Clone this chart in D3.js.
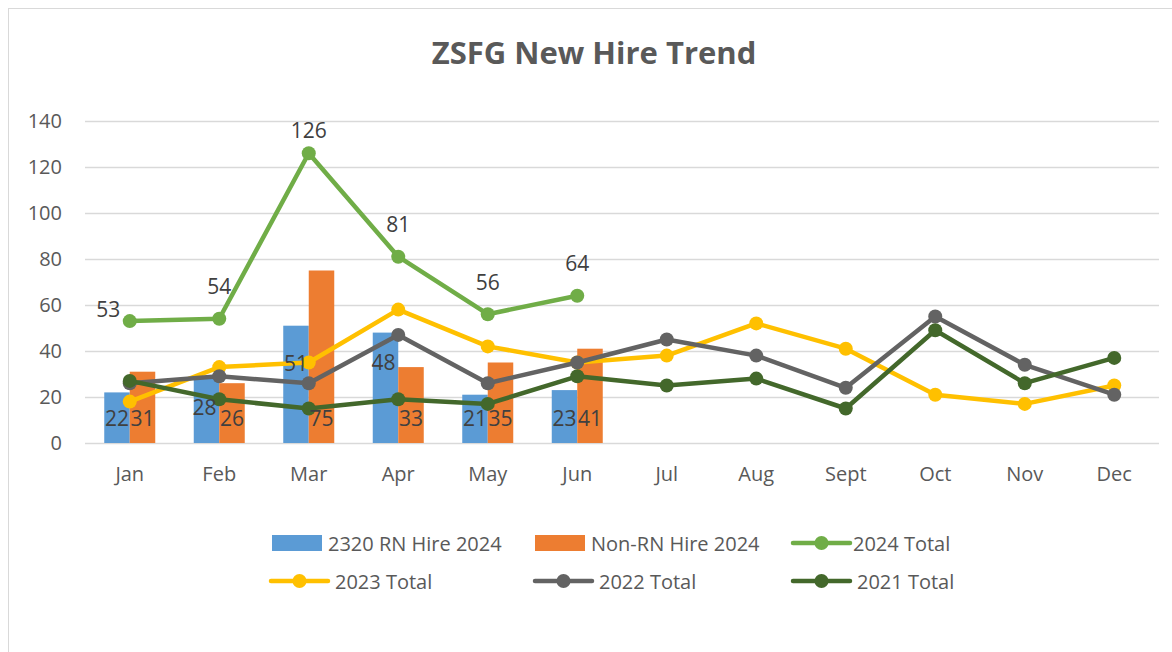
<!DOCTYPE html>
<html>
<head>
<meta charset="utf-8">
<script src="https://cdn.jsdelivr.net/npm/d3@7"></script>
<style>
	body { margin: 0; background: #fff; }
	svg { display: block; font-family: 'Open Sans', sans-serif; }
</style>
</head>
<body>
<script>
var months = ['Jan', 'Feb', 'Mar', 'Apr', 'May', 'Jun', 'Jul', 'Aug', 'Sept', 'Oct', 'Nov', 'Dec'];
var yTicks = [0, 20, 40, 60, 80, 100, 120, 140];
var rnHire2024 = [22, 28, 51, 48, 21, 23];
var nonRnHire2024 = [31, 26, 75, 33, 35, 41];
var total2024 = [53, 54, 126, 81, 56, 64];
var total2023 = [18, 33, 35, 58, 42, 35, 38, 52, 41, 21, 17, 25];
var total2022 = [26, 29, 26, 47, 26, 35, 45, 38, 24, 55, 34, 21];
var total2021 = [27, 19, 15, 19, 17, 29, 25, 28, 15, 49, 26, 37];

var W = 1172, H = 652;
var svg = d3.select('body').append('svg').attr('width', W).attr('height', H);

// chart frame
svg.append('rect').attr('x', 8.5).attr('y', 8.5).attr('width', W).attr('height', H)
	.attr('fill', '#fff').attr('stroke', '#d9d9d9').attr('stroke-width', 1);

svg.append('text').attr('x', 594).attr('y', 64).attr('text-anchor', 'middle')
	.attr('font-size', 31).attr('font-weight', 'bold').attr('fill', '#595959')
	.text('ZSFG New Hire Trend');

var xScale = d3.scaleBand().domain(months).range([85, 1159]);
var yScale = d3.scaleLinear().domain([0, 140]).range([443, 121]);
var xSub = d3.scaleBand().domain(['rn', 'non']).range([0, xScale.bandwidth()]).paddingInner(0).paddingOuter(0.755);
var cx = (d, i) => xScale(months[i]) + xScale.bandwidth() / 2;

// gridlines + y labels
var yAxis = d3.axisLeft(yScale).tickValues(yTicks).tickSize(-(1159 - 85)).tickPadding(23);
var gy = svg.append('g').attr('transform', 'translate(85,0)').call(yAxis);
gy.select('.domain').remove();
gy.selectAll('.tick line').attr('stroke', '#d9d9d9').attr('stroke-width', 1.5);
gy.selectAll('.tick text').attr('fill', '#595959').attr('font-size', 20).attr('font-family', 'Open Sans');

var xAxis = d3.axisBottom(xScale).tickSize(0).tickPadding(24);
var gx = svg.append('g').attr('transform', 'translate(0,443)').call(xAxis);
gx.select('.domain').remove();
gx.selectAll('.tick text').attr('fill', '#595959').attr('font-size', 20).attr('font-family', 'Open Sans');

// bars
var bars = [
	{ key: 'rn', values: rnHire2024, color: '#5B9BD5' },
	{ key: 'non', values: nonRnHire2024, color: '#ED7D31' }
];
bars.forEach(function(s){
	svg.append('g').selectAll('rect').data(s.values).enter().append('rect')
		.attr('x', (d, i) => xScale(months[i]) + xSub(s.key))
		.attr('y', d => yScale(d))
		.attr('width', xSub.bandwidth())
		.attr('height', d => yScale(0) - yScale(d))
		.attr('fill', s.color);
});

// lines
var lines = [
	{ values: total2024, color: '#70AD47' },
	{ values: total2023, color: '#FFC000' },
	{ values: total2022, color: '#636363' },
	{ values: total2021, color: '#43682B' }
];
var line = d3.line().x(cx).y(d => yScale(d));
lines.forEach(function(s){
	var g = svg.append('g');
	g.append('path').attr('d', line(s.values)).attr('fill', 'none')
		.attr('stroke', s.color).attr('stroke-width', 4.5).attr('stroke-linejoin', 'round');
	g.selectAll('circle').data(s.values).enter().append('circle')
		.attr('cx', cx).attr('cy', d => yScale(d)).attr('r', 7).attr('fill', s.color);
});

// data labels
var labelFont = 21, labelColor = '#404040';
// label heights (in data units) where Excel moved the RN labels up
var rnLabelAt = { 1: 15.5, 2: 34.5, 3: 35 };
svg.append('g').selectAll('text').data(rnHire2024).enter().append('text')
	.attr('x', (d, i) => xScale(months[i]) + xSub('rn') + xSub.bandwidth() / 2 - (i === 1 || i === 3 ? 2 : 0))
	.attr('y', (d, i) => yScale(rnLabelAt[i] !== undefined ? rnLabelAt[i] : 10.8) + 7.5)
	.attr('text-anchor', 'middle').attr('font-size', labelFont).attr('fill', labelColor)
	.text(d => d);
svg.append('g').selectAll('text').data(nonRnHire2024).enter().append('text')
	.attr('x', (d, i) => xScale(months[i]) + xSub('non') + xSub.bandwidth() / 2)
	.attr('y', yScale(10.8) + 7.5)
	.attr('text-anchor', 'middle').attr('font-size', labelFont).attr('fill', labelColor)
	.text(d => d);
svg.append('g').selectAll('text').data(total2024).enter().append('text')
	.attr('x', (d, i) => cx(d, i) - (i === 0 ? 21.5 : 0))
	.attr('y', (d, i) => i === 0 ? yScale(d) - 4 : Math.max(yScale(d) - 24.5, yScale(140) + 16.5))
	.attr('text-anchor', 'middle').attr('font-size', labelFont).attr('fill', labelColor)
	.text(d => d);

// legend
var legend = [
	{ name: '2320 RN Hire 2024', color: '#5B9BD5', type: 'bar', x: 272, y: 543 },
	{ name: 'Non-RN Hire 2024', color: '#ED7D31', type: 'bar', x: 535, y: 543 },
	{ name: '2024 Total', color: '#70AD47', type: 'line', x: 793, y: 543 },
	{ name: '2023 Total', color: '#FFC000', type: 'line', x: 271, y: 581 },
	{ name: '2022 Total', color: '#636363', type: 'line', x: 535, y: 581 },
	{ name: '2021 Total', color: '#43682B', type: 'line', x: 793, y: 581 }
];
var lg = svg.append('g').selectAll('g').data(legend).enter().append('g')
	.attr('transform', d => 'translate(' + d.x + ',' + d.y + ')');
lg.filter(d => d.type === 'bar').append('rect')
	.attr('x', 0).attr('y', -8).attr('width', 50).attr('height', 16).attr('fill', d => d.color);
lg.filter(d => d.type === 'line').append('line')
	.attr('x1', 0).attr('x2', 57).attr('y1', 0).attr('y2', 0)
	.attr('stroke', d => d.color).attr('stroke-width', 4.5).attr('stroke-linecap', 'round');
lg.filter(d => d.type === 'line').append('circle')
	.attr('cx', 28.5).attr('cy', 0).attr('r', 7).attr('fill', d => d.color);
lg.append('text').attr('x', d => d.type === 'bar' ? 56 : (d.y > 560 ? 64 : 60)).attr('y', 7.5)
	.attr('font-size', 20).attr('fill', '#595959').text(d => d.name);
</script>
</body>
</html>
